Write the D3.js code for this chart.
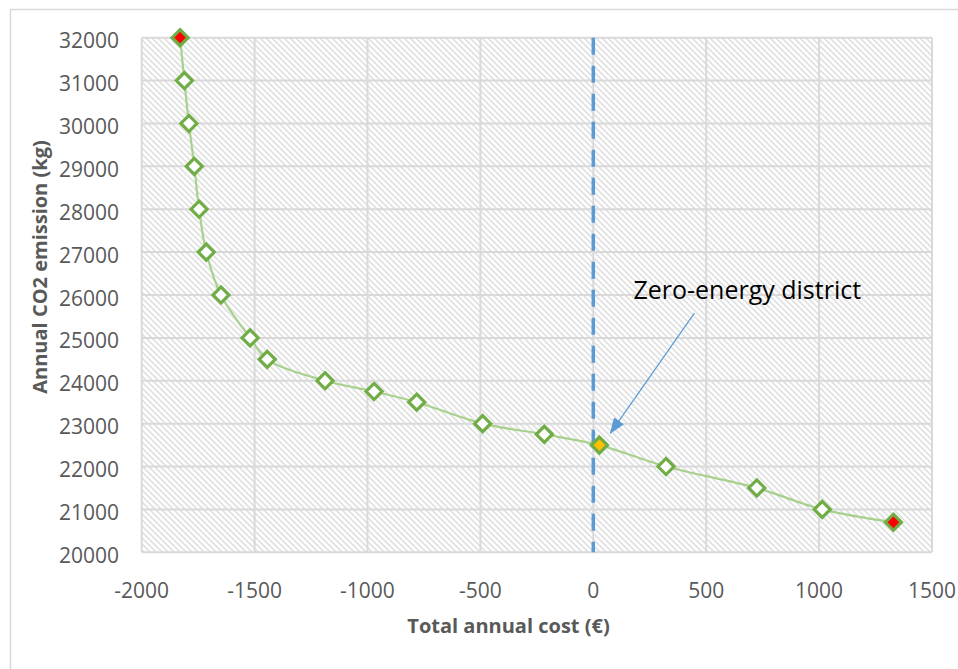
<!DOCTYPE html>
<html>
<head>
<meta charset="utf-8">
<script src="https://cdn.jsdelivr.net/npm/d3@7"></script>
<style>
  html, body { margin: 0; padding: 0; background: #fff; }
  svg { display: block; font-family: "Open Sans", "Noto Sans", sans-serif; }
  .tick-label { fill: #595959; font-size: 21px; }
  .axis-title { fill: #595959; font-size: 20px; font-weight: bold; }
</style>
</head>
<body>
<div id="chart"></div>
<script>
// values
const cost = [-1830, -1811, -1791, -1767, -1746, -1714, -1649, -1520, -1444, -1188, -971, -782, -490, -217, 27, 322, 724, 1014, 1329]
const emission = [32000, 31000, 30000, 29000, 28000, 27000, 26000, 25000, 24500, 24000, 23750, 23500, 23000, 22750, 22500, 22000, 21500, 21000, 20700]
const xTicks = [-2000, -1500, -1000, -500, 0, 500, 1000, 1500]
const yTicks = [20000, 21000, 22000, 23000, 24000, 25000, 26000, 27000, 28000, 29000, 30000, 31000, 32000]
const extremeIdx = [0, cost.length - 1]   // red end points
const zeroIdx = 14                        // zero-energy district
const zeroLine = 0
const noteText = 'Zero-energy district'

const width = 958, height = 669
const plot = { left: 141.7, top: 37.7, right: 932, bottom: 552.3 }

const svg = d3.select('#chart').append('svg')
  .attr('width', width)
  .attr('height', height)

const defs = svg.append('defs')

// diagonal hatch like the excel pattern fill
const hatch = defs.append('pattern')
  .attr('id', 'hatch')
  .attr('patternUnits', 'userSpaceOnUse')
  .attr('width', 6)
  .attr('height', 6)
hatch.append('rect').attr('width', 6).attr('height', 6).attr('fill', '#fff')
hatch.append('path')
  .attr('d', 'M-1,-1 L7,7 M-1,5 L1,7 M5,-1 L7,1')
  .attr('stroke', '#e1e1e1')
  .attr('stroke-width', 1.7)

defs.append('marker')
  .attr('id', 'arrowhead')
  .attr('markerUnits', 'userSpaceOnUse')
  .attr('viewBox', '0 0 16 12')
  .attr('refX', 15)
  .attr('refY', 6)
  .attr('markerWidth', 16)
  .attr('markerHeight', 12)
  .attr('orient', 'auto')
  .append('path')
  .attr('d', 'M0,0 L16,6 L0,12 Z')
  .attr('fill', '#5b9bd5')

// chart area frame (runs off the right and bottom edge)
svg.append('rect')
  .attr('x', 10.5).attr('y', 9.5)
  .attr('width', 1000).attr('height', 700)
  .attr('fill', '#fff')
  .attr('stroke', '#d9d9d9')
  .attr('stroke-width', 1.5)

const x = d3.scaleLinear().domain([-2000, 1500]).range([plot.left, plot.right])
const y = d3.scaleLinear().domain([20000, 32000]).range([plot.bottom, plot.top])

svg.append('rect')
  .attr('x', plot.left).attr('y', plot.top)
  .attr('width', plot.right - plot.left)
  .attr('height', plot.bottom - plot.top)
  .attr('fill', 'url(#hatch)')

const grid = svg.append('g').attr('stroke', '#d9d9d9').attr('stroke-width', 2)

grid.selectAll('.vgrid')
  .data(xTicks)
  .enter()
  .append('line')
  .attr('x1', d => x(d)).attr('x2', d => x(d))
  .attr('y1', plot.top).attr('y2', plot.bottom)

grid.selectAll('.hgrid')
  .data(yTicks)
  .enter()
  .append('line')
  .attr('x1', plot.left).attr('x2', plot.right)
  .attr('y1', d => y(d)).attr('y2', d => y(d))

// tick labels
svg.append('g').selectAll('text')
  .data(yTicks)
  .enter()
  .append('text')
  .attr('class', 'tick-label')
  .attr('text-anchor', 'end')
  .attr('x', 119)
  .attr('y', d => y(d) + 10.5)
  .text(d => d)

svg.append('g').selectAll('text')
  .data(xTicks)
  .enter()
  .append('text')
  .attr('class', 'tick-label')
  .attr('text-anchor', 'middle')
  .attr('x', d => x(d))
  .attr('y', plot.bottom + 45.7)
  .text(d => d)

svg.append('text')
  .attr('class', 'axis-title')
  .attr('text-anchor', 'middle')
  .attr('x', 508.5)
  .attr('y', 633)
  .text('Total annual cost (€)')

svg.append('text')
  .attr('class', 'axis-title')
  .attr('text-anchor', 'middle')
  .attr('transform', 'translate(47,267) rotate(-90)')
  .text('Annual CO2 emission (kg)')

// dashed zero line
svg.append('line')
  .attr('x1', x(zeroLine)).attr('x2', x(zeroLine))
  .attr('y1', plot.top).attr('y2', plot.bottom)
  .attr('stroke', '#5b9bd5')
  .attr('stroke-width', 3.5)
  .attr('stroke-dasharray', '17,11')

const pts = cost.map((c, i) => ({ cost: c, co2: emission[i], i: i }))

const line = d3.line()
  .x(d => x(d.cost))
  .y(d => y(d.co2))
  .curve(d3.curveCatmullRom.alpha(0.5))

svg.append('path')
  .datum(pts)
  .attr('d', line)
  .attr('fill', 'none')
  .attr('stroke', '#a9d18e')
  .attr('stroke-width', 2.2)

const diamond = d3.symbol().type(d3.symbolDiamond2).size(165)

svg.append('g').selectAll('path')
  .data(pts)
  .enter()
  .append('path')
  .attr('transform', d => 'translate(' + x(d.cost) + ',' + y(d.co2) + ')')
  .attr('d', diamond)
  .attr('fill', d => extremeIdx.indexOf(d.i) >= 0 ? '#ff0000' : (d.i === zeroIdx ? '#ffc000' : '#fff'))
  .attr('stroke', '#70ad47')
  .attr('stroke-width', 3.2)

// annotation pointing at the zero-energy point
const zp = [x(cost[zeroIdx]), y(emission[zeroIdx])]

svg.append('line')
  .attr('x1', zp[0] + 95).attr('y1', zp[1] - 132)
  .attr('x2', zp[0] + 11).attr('y2', zp[1] - 12)
  .attr('stroke', '#5b9bd5')
  .attr('stroke-width', 1.2)
  .attr('marker-end', 'url(#arrowhead)')

svg.append('text')
  .attr('x', zp[0] + 34)
  .attr('y', zp[1] - 146)
  .attr('font-size', 25)
  .attr('fill', '#000')
  .text(noteText)
</script>
</body>
</html>
